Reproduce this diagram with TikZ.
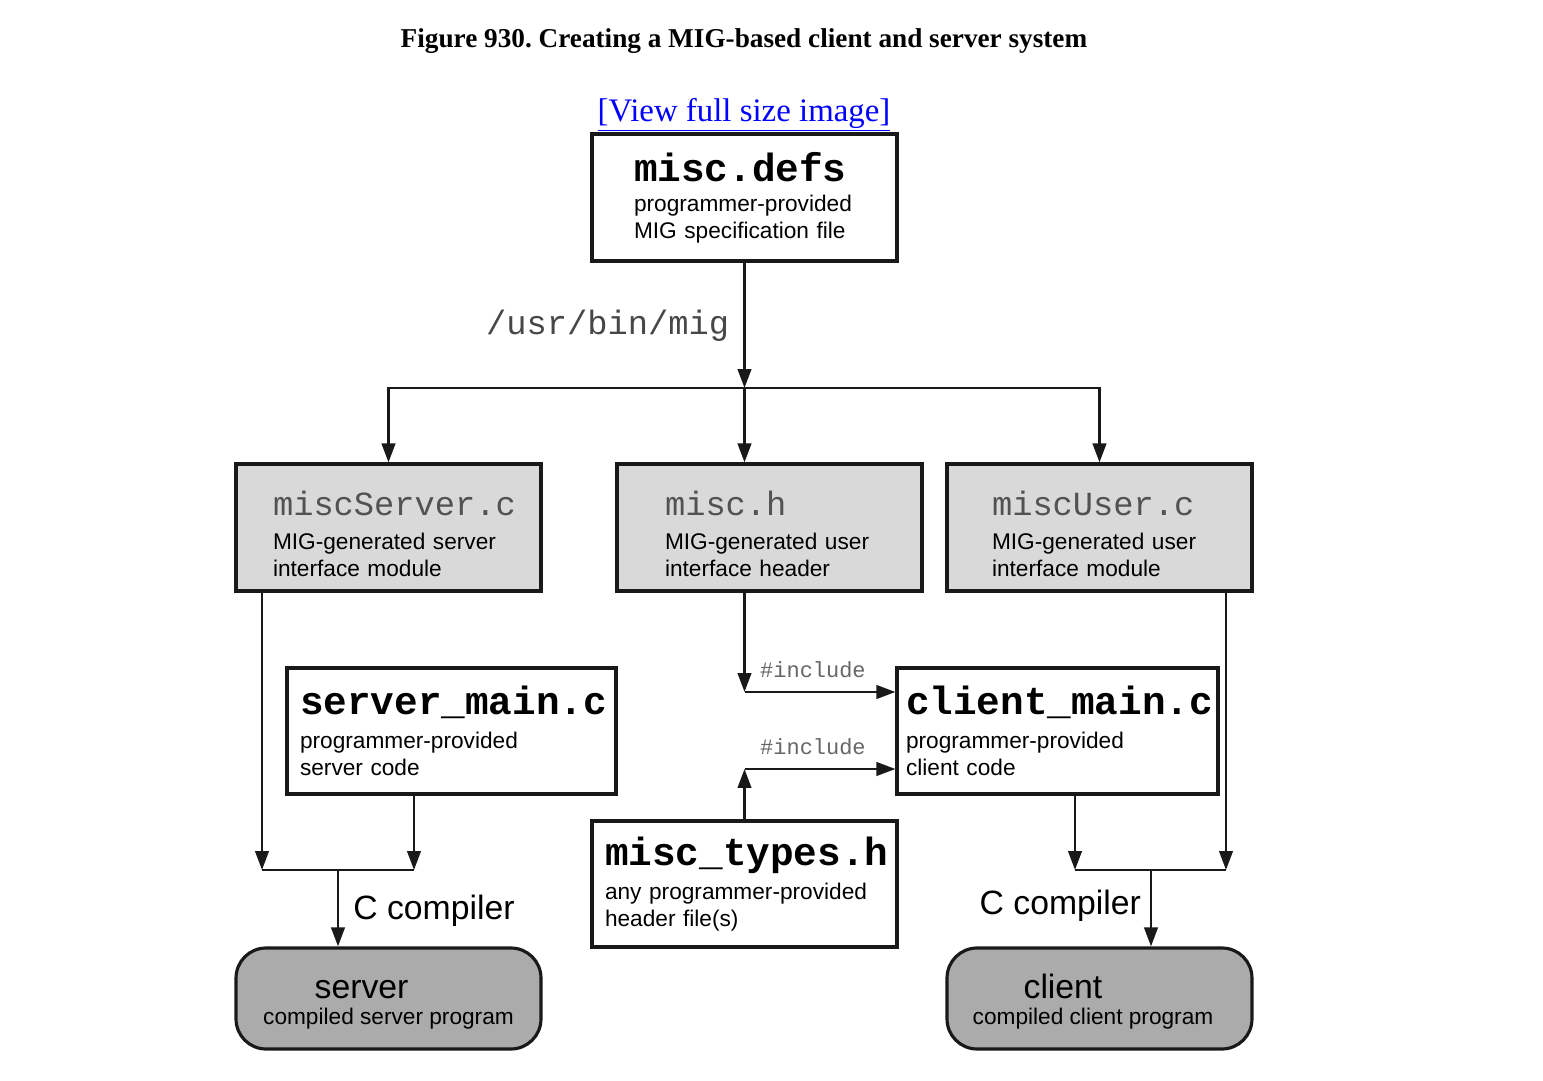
\documentclass[tikz,border=0pt]{standalone}
\usepackage{fontspec}
\setmainfont{Liberation Serif}
\newfontfamily\sansfam{Liberation Sans}
\newfontfamily\monofam{Liberation Mono}
\usetikzlibrary{positioning, arrows.meta}
\newcommand{\fbold}{\monofam\bfseries\fontsize{22.4}{24}\selectfont}
\newcommand{\fgen}{\monofam\fontsize{19.2}{22}\selectfont\color{black!68}}
\newcommand{\fsub}{\sansfam\fontsize{12.9}{15.3}\selectfont}
\newcommand{\fstage}{\sansfam\fontsize{19.2}{22}\selectfont}
\newcommand{\fincl}{\monofam\fontsize{12.5}{14}\selectfont}
\frenchspacing

\begin{document}
\begin{tikzpicture}[x=0.02cm, y=-0.02cm,
        srcbox/.style={draw=black!90, line width=1.8pt, fill=white, rectangle, minimum width=6.1cm, minimum height=2.54cm, inner xsep=0pt, align=left, font=\fsub},
        genbox/.style={srcbox, fill=black!15},
        progbox/.style={draw=black!90, line width=1.8pt, fill=black!33, rectangle, rounded corners=0.6cm, minimum width=6.1cm, minimum height=2.02cm, align=center, font=\fsub},
        arrow/.style={-{Triangle[length=0.38cm, width=0.27cm]}, line width=1.5pt, draw=black!90},
        incl/.style={font=\fincl, text=black!60, yshift=4pt, xshift=-4pt},
        stage/.style={font=\fstage}
    ]
    \useasboundingbox (0,0) rectangle (1543,1081);

    % Caption
    \node[font=\bfseries\fontsize{15.5}{18}\selectfont] (caption) at (744,41) {Figure 930. Creating a MIG-based client and server system};
    \node[font=\fontsize{18.7}{22}\selectfont, text=blue] (link) at (744,115) {\underline{[View full size image]}};

    % Nodes
    \node[srcbox, text width=4.42cm] (defs) at (744.5,197.5) {{\fbold misc.defs}\\[2pt] programmer-provided\\ MIG specification file};
    \node[genbox, text width=4.62cm] (serverc) at (388.5,527.5) {{\fgen\rule{0pt}{21pt}miscServer.c}\\[4pt] MIG-generated server\\ interface module};
    \node[genbox, text width=4.18cm] (mh) at (769.5,527.5) {{\fgen\rule{0pt}{21pt}misc.h}\\[4pt] MIG-generated user\\ interface header};
    \node[genbox, text width=4.3cm] (userc) at (1099.5,527.5) {{\fgen\rule{0pt}{21pt}miscUser.c}\\[4pt] MIG-generated user\\ interface module};
    \node[srcbox, minimum width=6.58cm, text width=6.06cm, minimum height=2.52cm] (smain) at (451.5,731) {{\fbold server\_main.c}\\[4pt] programmer-provided\\ server code};
    \node[srcbox, minimum width=6.42cm, text width=6.06cm, minimum height=2.52cm] (cmain) at (1057.5,731) {{\fbold client\_main.c}\\[4pt] programmer-provided\\ client code};
    \node[srcbox, text width=5.58cm, minimum height=2.52cm] (types) at (744.5,884) {{\fbold misc\_types.h}\\[4pt] any programmer-provided\\ header file(s)};
    \node[progbox] (server) at (388.5,998.5) {{\fstage\rule{0pt}{17.5pt}server}\rule{1.08cm}{0pt}\\[-1pt] compiled server program};
    \node[progbox] (client) at (1099.5,998.5) {{\fstage\rule{0pt}{17.5pt}client}\rule{1.46cm}{0pt}\\[-1pt] compiled client program\rule{0.26cm}{0pt}};

    % Junctions
    \coordinate (split) at (744.5,388);
    \coordinate (hinc) at (744.5,692);
    \coordinate (tinc) at (744.5,769);
    \coordinate (sl) at (262,870);
    \coordinate (sr) at (414,870);
    \coordinate (sj) at (338,870);
    \coordinate (cl) at (1075,870);
    \coordinate (cr) at (1226,870);
    \coordinate (cj) at (1151,870);

    % MIG run
    \draw[arrow] (defs.south) -- node[left, inner xsep=8pt, font=\monofam\fontsize{19.2}{22}\selectfont, text=black!72] {/usr/bin/mig} (split);
    \draw[arrow] (split) -| (serverc.north);
    \draw[arrow] (split) -| (userc.north);
    \draw[arrow] (split) -- (split |- mh.north);

    % Includes
    \draw[arrow] (mh.south -| hinc) -- (hinc);
    \draw[arrow] (hinc) -- node[above, incl] {\#include} (hinc -| cmain.west);
    \draw[arrow] (types.north -| tinc) -- (tinc);
    \draw[arrow] (tinc) -- node[above, incl] {\#include} (tinc -| cmain.west);

    % Server build
    \draw[arrow] (serverc.south -| sl) -- (sl);
    \draw[arrow] (smain.south -| sr) -- (sr);
    \draw[line width=1.5pt, black!90] (sl) -- (sr);
    \draw[arrow] (sj) -- node[right, stage, inner xsep=8pt, yshift=-1.5pt] {C compiler} (sj |- server.north);

    % Client build
    \draw[arrow] (userc.south -| cr) -- (cr);
    \draw[arrow] (cmain.south -| cl) -- (cl);
    \draw[line width=1.5pt, black!90] (cl) -- (cr);
    \draw[arrow] (cj) -- node[left, stage, inner xsep=5pt, yshift=1.5pt] {C compiler} (cj |- client.north);
\end{tikzpicture}
\end{document}
